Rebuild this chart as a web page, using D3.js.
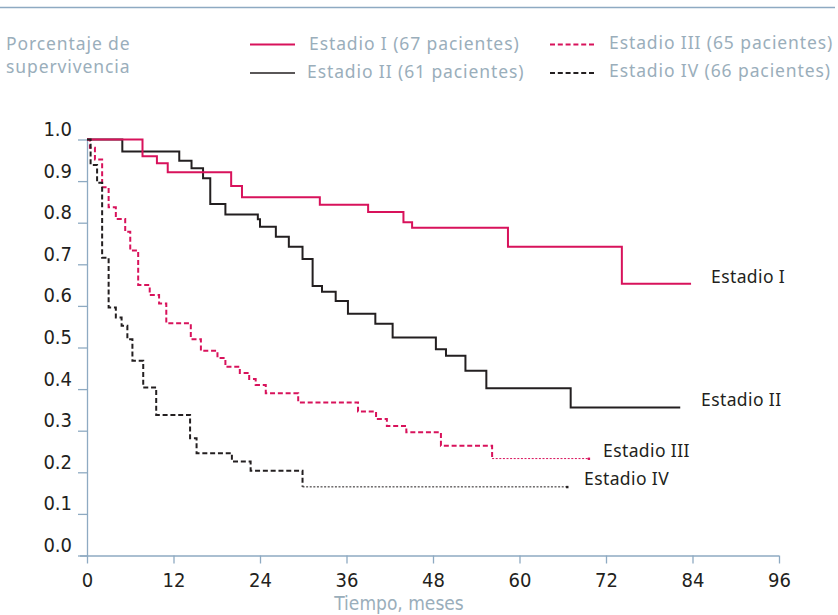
<!DOCTYPE html>
<html>
<head>
<meta charset="utf-8">
<script src="https://cdn.jsdelivr.net/npm/d3@7"></script>
<style>
	body { margin: 0; background: #fff; }
	svg { display: block; }
	.legend-text { font-family: "Noto Sans", "DejaVu Sans", sans-serif; font-size: 17.5px; fill: #9aaebb; letter-spacing: 0.9px; }
	.tick text { font-family: "Liberation Sans Narrow", "DejaVu Sans Condensed", sans-serif; font-size: 20px; fill: #231f20; }
	.axis-title { font-family: "Liberation Sans Narrow", "DejaVu Sans Condensed", sans-serif; font-size: 19px; fill: #9aaebb; }
	.end-label { font-family: "Noto Sans", "DejaVu Sans", sans-serif; font-size: 17.5px; fill: #231f20; letter-spacing: 0.4px; }
</style>
</head>
<body>
<svg id="chart"></svg>
<script>
	var WIDTH = 838, HEIGHT = 615;
	var MAGENTA = "#d8125b";
	var BLACK = "#231f20";
	var AXIS_COLOR = "#8eaac2";

	// survival curves (months, fraction alive)
	var stage1Times = [0, 7.7, 9.7, 11.2, 20.0, 21.5, 32.3, 39.0, 43.9, 45.1, 58.4, 74.2, 83.8];
	var stage1Surv = [1.0, 0.960, 0.943, 0.921, 0.888, 0.861, 0.843, 0.826, 0.801, 0.788, 0.742, 0.653, 0.653];

	var stage2Times = [0, 4.9, 12.8, 14.5, 16.1, 17.1, 19.2, 23.7, 24.0, 26.2, 28.0, 29.9, 31.3, 32.6, 34.5, 36.2, 40.0, 42.4, 48.4, 49.8, 52.5, 55.4, 67.1, 82.3];
	var stage2Surv = [1.0, 0.971, 0.949, 0.931, 0.907, 0.845, 0.820, 0.808, 0.790, 0.766, 0.742, 0.713, 0.648, 0.634, 0.612, 0.581, 0.557, 0.524, 0.496, 0.480, 0.444, 0.402, 0.356, 0.356];

	var stage3Times = [0, 0.4, 1.1, 2.1, 3.0, 4.0, 5.3, 6.0, 7.1, 8.7, 10.0, 11.0, 14.4, 15.8, 18.1, 19.2, 21.2, 22.5, 23.4, 24.8, 29.3, 37.6, 40.1, 41.6, 44.3, 49.1, 56.2];
	var stage3Surv = [1.0, 0.980, 0.952, 0.885, 0.837, 0.809, 0.778, 0.733, 0.650, 0.626, 0.606, 0.558, 0.520, 0.492, 0.475, 0.454, 0.439, 0.424, 0.410, 0.390, 0.368, 0.346, 0.328, 0.311, 0.296, 0.264, 0.233];
	var stage3End = 69.6; // last follow-up, drawn dotted

	var stage4Times = [0, 0.5, 1.4, 2.1, 3.0, 4.0, 4.8, 5.6, 6.3, 7.8, 9.6, 14.3, 15.2, 20.1, 22.7, 29.9];
	var stage4Surv = [1.0, 0.939, 0.896, 0.716, 0.596, 0.572, 0.552, 0.520, 0.468, 0.404, 0.338, 0.282, 0.246, 0.226, 0.204, 0.165];
	var stage4End = 66.6;

	var xTicks = [0, 12, 24, 36, 48, 60, 72, 84, 96];
	var yTicks = [0, 0.1, 0.2, 0.3, 0.4, 0.5, 0.6, 0.7, 0.8, 0.9, 1.0];

	var legendLabels = ["Estadio I (67 pacientes)", "Estadio II (61 pacientes)", "Estadio III (65 pacientes)", "Estadio IV (66 pacientes)"];
	var endLabels = ["Estadio I", "Estadio II", "Estadio III", "Estadio IV"];

	var svg = d3.select("#chart").attr("width", WIDTH).attr("height", HEIGHT);

	var x = d3.scaleLinear().domain([0, 96]).range([87, 779]);
	var y = d3.scaleLinear().domain([0, 1]).range([555.5, 139.5]);

	function zip(ts, vs) {
		return ts.map(function(t, i) { return [t, vs[i]]; });
	}

	var line = d3.line()
		.x(function(d) { return x(d[0]); })
		.y(function(d) { return y(d[1]); })
		.curve(d3.curveStepAfter);

	// top rule
	svg.append("line")
		.attr("x1", 0).attr("x2", 835).attr("y1", 7.5).attr("y2", 7.5)
		.style("stroke", AXIS_COLOR).style("stroke-width", 1.3);

	// y title
	svg.append("text").attr("class", "legend-text").attr("x", 6).attr("y", 50).text("Porcentaje de");
	svg.append("text").attr("class", "legend-text").attr("x", 6).attr("y", 73).text("supervivencia");

	// legend
	var legendPos = [
		{ x1: 250, x2: 295, ly: 44.5, tx: 309, ty: 50, color: MAGENTA, dash: null, w: 2 },
		{ x1: 250, x2: 295, ly: 73, tx: 307, ty: 78, color: BLACK, dash: null, w: 1.3 },
		{ x1: 550, x2: 596, ly: 44.5, tx: 609, ty: 49, color: MAGENTA, dash: "5,2.8", w: 2 },
		{ x1: 550, x2: 596, ly: 73, tx: 609, ty: 77, color: BLACK, dash: "5,2.8", w: 2 }
	];
	legendPos.forEach(function(p, i) {
		svg.append("line")
			.attr("x1", p.x1).attr("x2", p.x2).attr("y1", p.ly).attr("y2", p.ly)
			.style("stroke", p.color).style("stroke-width", p.w)
			.style("stroke-dasharray", p.dash);
		svg.append("text").attr("class", "legend-text")
			.attr("x", p.tx).attr("y", p.ty).text(legendLabels[i]);
	});

	// axes
	var yAxis = svg.append("g")
		.attr("transform", "translate(" + x(0) + ",0)")
		.call(d3.axisLeft(y).tickValues(yTicks).tickSize(9).tickSizeOuter(0).tickPadding(6)
			.tickFormat(d3.format(".1f")));
	var xAxis = svg.append("g")
		.attr("transform", "translate(0," + y(0) + ")")
		.call(d3.axisBottom(x).tickValues(xTicks).tickSize(8).tickSizeOuter(0).tickPadding(3));

	[xAxis, yAxis].forEach(function(ax) {
		ax.select(".domain").style("stroke", AXIS_COLOR).style("stroke-width", 1.3);
		ax.selectAll(".tick line").style("stroke", AXIS_COLOR).style("stroke-width", 1.3);
	});
	// x axis line reaches a little left of zero
	xAxis.select(".domain").attr("d", "M" + (x(0) - 7) + ",0.5H" + x(96));
	yAxis.selectAll(".tick text").attr("dy", "-0.2em");
	xAxis.selectAll(".tick text").attr("dy", "1.0em");

	svg.append("text").attr("class", "axis-title")
		.attr("x", 399).attr("y", 610).attr("text-anchor", "middle")
		.text("Tiempo, meses");

	// curves
	var curves = svg.append("g").style("fill", "none");

	curves.append("path").datum(zip(stage2Times, stage2Surv))
		.attr("d", line).style("stroke", BLACK).style("stroke-width", 2);
	curves.append("path").datum(zip(stage1Times, stage1Surv))
		.attr("d", line).style("stroke", MAGENTA).style("stroke-width", 2);

	function dashedCurve(ts, vs, end, color) {
		curves.append("path").datum(zip(ts, vs))
			.attr("d", line).style("stroke", color).style("stroke-width", 2)
			.style("stroke-dasharray", "5,2.8");
		var last = vs[vs.length - 1];
		var tail = [[ts[ts.length - 1], last], [end, last]];
		curves.append("path").datum(tail)
			.attr("d", line).style("stroke", color).style("stroke-width", 1)
			.style("stroke-dasharray", "2,1.6");
		curves.append("rect")
			.attr("x", x(end) - 1).attr("y", y(last) - 1)
			.attr("width", 2.4).attr("height", 2.4)
			.style("fill", color);
	}
	dashedCurve(stage3Times, stage3Surv, stage3End, MAGENTA);
	dashedCurve(stage4Times, stage4Surv, stage4End, BLACK);

	// end labels
	var endPos = [
		{ x: 711, y: 283 },
		{ x: 701, y: 406 },
		{ x: 603, y: 457 },
		{ x: 584, y: 485 }
	];
	endPos.forEach(function(p, i) {
		svg.append("text").attr("class", "end-label").attr("x", p.x).attr("y", p.y).text(endLabels[i]);
	});
</script>
</body>
</html>
